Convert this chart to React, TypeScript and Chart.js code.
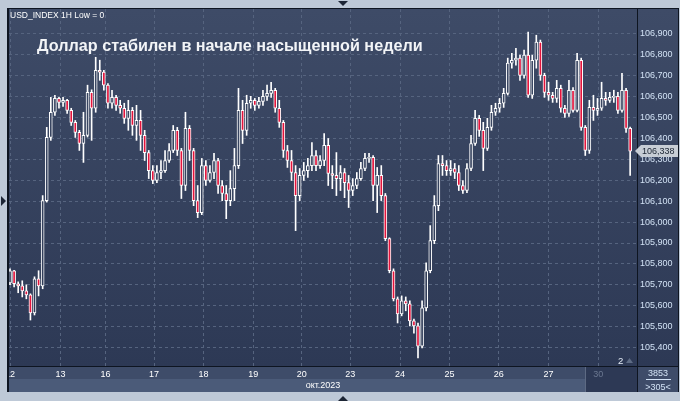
import React, { useEffect, useRef } from 'react';
import { Chart, registerables } from 'chart.js';

Chart.register(...registerables);

// ---- data ----
const headerText = 'USD_INDEX 1H Low = 0';
const titleText = 'Доллар стабилен в начале насыщенной недели';
const monthLabel = 'окт.2023';
const dayLabels = ['12', '13', '16', '17', '18', '19', '20', '23', '24', '25', '26', '27', '30'];
const dayPositions = [0, 12.4, 23.4, 35.3, 47.4, 59.6, 71.5, 83.4, 95.6, 107.7, 119.8, 132.0, 144.2];
const priceTicks = [105.4, 105.5, 105.6, 105.7, 105.8, 105.9, 106.0, 106.1, 106.2, 106.3, 106.4, 106.5, 106.6, 106.7, 106.8, 106.9];
const lastPrice = 106.338;
const barsTotal = '3853';
const barsVisible = '>305<';
const pageLabel = '2';

const firstOpen = 105.71;
const closes = [
  105.768, 105.706, 105.696, 105.672, 105.653, 105.567, 105.729, 105.696, 106.102, 106.403,
  106.523, 106.589, 106.570, 106.580, 106.532, 106.475, 106.427, 106.374, 106.413, 106.618,
  106.542, 106.723, 106.714, 106.652, 106.566, 106.594, 106.556, 106.542, 106.494, 106.532,
  106.460, 106.484, 106.413, 106.331, 106.245, 106.198, 106.236, 106.245, 106.293, 106.341,
  106.437, 106.341, 106.174, 106.446, 106.341, 106.102, 106.045, 106.269, 106.198, 106.236,
  106.293, 106.174, 106.136, 106.102, 106.159, 106.269, 106.532, 106.437, 106.566, 106.580,
  106.556, 106.575, 106.599, 106.613, 106.628, 106.542, 106.475, 106.341, 106.293, 106.236,
  106.126, 106.222, 106.245, 106.269, 106.317, 106.269, 106.293, 106.365, 106.231, 106.222,
  106.207, 106.236, 106.188, 106.150, 106.174, 106.207, 106.255, 106.303, 106.308, 106.174,
  106.222, 106.126, 105.921, 105.768, 105.634, 105.562, 105.624, 105.610, 105.529, 105.505,
  105.409, 105.591, 105.768, 105.911, 106.078, 106.279, 106.269, 106.245, 106.255, 106.236,
  106.174, 106.150, 106.255, 106.374, 106.494, 106.437, 106.351, 106.451, 106.523, 106.542,
  106.566, 106.613, 106.757, 106.771, 106.781, 106.699, 106.795, 106.604, 106.771, 106.857,
  106.699, 106.618, 106.604, 106.589, 106.637, 106.542, 106.518, 106.628, 106.532, 106.771,
  106.451, 106.341, 106.546, 106.532, 106.542, 106.589, 106.580, 106.594, 106.599, 106.532,
  106.628, 106.446, 106.338,
];
const highs = [
  105.777, 105.770, 105.715, 105.720, 105.701, 105.658, 105.739, 105.768, 106.126, 106.451,
  106.594, 106.604, 106.594, 106.594, 106.585, 106.542, 106.484, 106.437, 106.523, 106.652,
  106.630, 106.785, 106.771, 106.723, 106.660, 106.628, 106.604, 106.580, 106.566, 106.580,
  106.546, 106.556, 106.532, 106.437, 106.341, 106.269, 106.269, 106.293, 106.341, 106.374,
  106.460, 106.451, 106.351, 106.523, 106.460, 106.351, 106.174, 106.303, 106.293, 106.269,
  106.327, 106.303, 106.198, 106.174, 106.245, 106.351, 106.637, 106.580, 106.604, 106.599,
  106.589, 106.594, 106.628, 106.652, 106.666, 106.637, 106.580, 106.484, 106.365, 106.341,
  106.269, 106.255, 106.284, 106.303, 106.379, 106.341, 106.317, 106.422, 106.398, 106.269,
  106.331, 106.269, 106.255, 106.222, 106.207, 106.236, 106.284, 106.327, 106.327, 106.317,
  106.260, 106.269, 106.136, 105.925, 105.777, 105.643, 105.648, 105.643, 105.624, 105.538,
  105.519, 105.624, 105.806, 105.983, 106.126, 106.317, 106.317, 106.293, 106.293, 106.279,
  106.269, 106.198, 106.279, 106.413, 106.532, 106.508, 106.475, 106.494, 106.556, 106.566,
  106.589, 106.637, 106.781, 106.804, 106.828, 106.795, 106.819, 106.905, 106.795, 106.890,
  106.867, 106.709, 106.666, 106.618, 106.675, 106.652, 106.556, 106.675, 106.640, 106.804,
  106.781, 106.460, 106.580, 106.604, 106.589, 106.666, 106.618, 106.618, 106.628, 106.618,
  106.709, 106.637, 106.452,
];
const lows = [
  105.701, 105.691, 105.663, 105.643, 105.634, 105.533, 105.557, 105.648, 105.682, 106.095,
  106.389, 106.508, 106.542, 106.551, 106.518, 106.460, 106.403, 106.341, 106.284, 106.405,
  106.389, 106.523, 106.675, 106.628, 106.542, 106.542, 106.532, 106.518, 106.470, 106.437,
  106.413, 106.389, 106.341, 106.293, 106.207, 106.183, 106.188, 106.207, 106.236, 106.284,
  106.331, 106.317, 106.112, 106.150, 106.293, 106.078, 106.021, 106.035, 106.174, 106.190,
  106.207, 106.136, 106.102, 106.016, 106.078, 106.102, 106.255, 106.374, 106.413, 106.542,
  106.532, 106.542, 106.556, 106.580, 106.594, 106.523, 106.451, 106.308, 106.260, 106.198,
  105.959, 106.102, 106.198, 106.212, 106.245, 106.245, 106.255, 106.269, 106.174, 106.159,
  106.126, 106.150, 106.116, 106.069, 106.126, 106.159, 106.198, 106.245, 106.284, 106.102,
  106.045, 106.102, 105.911, 105.758, 105.624, 105.519, 105.553, 105.577, 105.505, 105.471,
  105.352, 105.400, 105.577, 105.758, 105.897, 106.054, 106.222, 106.222, 106.222, 106.207,
  106.150, 106.136, 106.140, 106.245, 106.365, 106.408, 106.245, 106.341, 106.437, 106.508,
  106.523, 106.546, 106.605, 106.733, 106.747, 106.675, 106.685, 106.594, 106.589, 106.733,
  106.675, 106.594, 106.580, 106.570, 106.570, 106.523, 106.499, 106.503, 106.523, 106.525,
  106.437, 106.317, 106.327, 106.484, 106.508, 106.532, 106.556, 106.570, 106.570, 106.518,
  106.523, 106.427, 106.222,
];
const opens = closes.map((_, i) => (i === 0 ? firstOpen : closes[i - 1]));

// ---- styles ----
const FONT = '"Liberation Sans", Arial, sans-serif';
const FRAME = '#bec9d7';
const BG_TOP = '#3e4b67';
const BG_BOT = '#2d3955';
const GRID = '#56647f';
const RED = '#e3143c';
const WHITE = '#ffffff';
const AXIS_TXT = '#d2e2f5';

function plotGradient(chart: any) {
  const a = chart.chartArea;
  if (!a) return BG_BOT;
  const g = chart.ctx.createLinearGradient(0, a.top, 0, a.bottom);
  g.addColorStop(0, BG_TOP);
  g.addColorStop(1, BG_BOT);
  return g;
}

const backgroundPlugin = {
  id: 'bgPanel',
  beforeDraw(chart: any) {
    const ctx = chart.ctx;
    const a = chart.chartArea;
    ctx.save();
    ctx.fillStyle = FRAME;
    ctx.fillRect(0, 0, chart.width, chart.height);
    const g = ctx.createLinearGradient(0, a.top, 0, a.bottom);
    g.addColorStop(0, BG_TOP);
    g.addColorStop(1, BG_BOT);
    ctx.fillStyle = g;
    ctx.fillRect(9, 9, 669, a.bottom - 9);
    // date rows
    ctx.fillStyle = '#3e4c69';
    ctx.fillRect(9, a.bottom, 669, 13);
    ctx.fillStyle = '#4b5b79';
    ctx.fillRect(9, a.bottom + 13, a.right - 9, 13);
    ctx.fillStyle = '#3e4c69';
    ctx.fillRect(a.right, a.bottom, 678 - a.right, 26);
    // darker box for current day
    ctx.fillStyle = '#2d3955';
    ctx.fillRect(586, a.bottom, a.right - 586, 26);
    ctx.fillStyle = '#5d6a83';
    ctx.fillRect(585, a.bottom + 1, 1, 25);
    ctx.restore();
  },
  afterDraw(chart: any) {
    const ctx = chart.ctx;
    const a = chart.chartArea;
    ctx.save();
    // outer frame
    ctx.fillStyle = FRAME;
    ctx.fillRect(0, 0, 680, 8);
    ctx.fillRect(0, 0, 7, 401);
    ctx.fillRect(679, 0, 1, 401);
    ctx.fillRect(0, 392, 680, 9);
    // borders
    ctx.fillStyle = '#0e1521';
    ctx.fillRect(7, 8, 2, 384);
    ctx.fillRect(7, 8, 672, 1);
    ctx.fillRect(a.right, 9, 1, 383);
    ctx.fillRect(9, a.bottom, 669, 1);
    ctx.fillRect(678, 8, 1, 384);
    // triangles
    ctx.fillStyle = '#1c2535';
    ctx.beginPath(); ctx.moveTo(338, 1); ctx.lineTo(348, 1); ctx.lineTo(343, 6); ctx.closePath(); ctx.fill();
    ctx.beginPath(); ctx.moveTo(1, 196); ctx.lineTo(1, 206); ctx.lineTo(6, 201); ctx.closePath(); ctx.fill();
    ctx.beginPath(); ctx.moveTo(338, 401); ctx.lineTo(348, 401); ctx.lineTo(343, 396); ctx.closePath(); ctx.fill();
    // header & title
    ctx.fillStyle = WHITE;
    ctx.textAlign = 'left';
    ctx.textBaseline = 'alphabetic';
    ctx.font = `8.5px ${FONT}`;
    ctx.fillText(headerText, 10, 17.5);
    ctx.fillStyle = '#f2f4f7';
    ctx.font = `bold 16.2px ${FONT}`;
    ctx.fillText(titleText, 37, 51);
    // current price tag
    const py = chart.scales.y.getPixelForValue(lastPrice);
    ctx.fillStyle = '#c7cdd5';
    ctx.beginPath();
    ctx.moveTo(635, py);
    ctx.lineTo(641, py - 6);
    ctx.lineTo(678, py - 6);
    ctx.lineTo(678, py + 6);
    ctx.lineTo(641, py + 6);
    ctx.closePath();
    ctx.fill();
    ctx.fillStyle = '#1a2432';
    ctx.font = `9px ${FONT}`;
    ctx.textBaseline = 'middle';
    ctx.fillText(lastPrice.toFixed(3).replace('.', ','), 642, py + 0.5);
    // page label
    ctx.fillStyle = '#e6eef8';
    ctx.font = `9.5px ${FONT}`;
    ctx.textBaseline = 'alphabetic';
    ctx.fillText(pageLabel, 618, 364);
    ctx.fillStyle = '#5e6c85';
    ctx.beginPath(); ctx.moveTo(626, 363); ctx.lineTo(633, 363); ctx.lineTo(629.5, 358); ctx.closePath(); ctx.fill();
    // bars counter
    ctx.fillStyle = AXIS_TXT;
    ctx.font = `9px ${FONT}`;
    ctx.textAlign = 'center';
    ctx.fillText(barsTotal, 658, 376);
    ctx.fillRect(646, 379, 25, 1);
    ctx.fillText(barsVisible, 658, 390);
    ctx.restore();
  },
};

export default function App() {
  const ref = useRef<HTMLCanvasElement>(null);
  useEffect(() => {
    const canvas = ref.current;
    if (!canvas) return;
    Chart.defaults.font.family = FONT;
    const wickData = closes.map((_, i) => ({ x: i, y: [lows[i], highs[i]] }));
    const bodyData = closes.map((c, i) => ({ x: i, y: [opens[i], c] }));
    const chart = new Chart(canvas, {
      type: 'bar',
      data: {
        datasets: [
          {
            label: 'body',
            data: bodyData as any,
            order: 0,
            grouped: false,
            barThickness: 3,
            borderWidth: 1,
            borderSkipped: false,
            borderColor: WHITE,
            backgroundColor: (c: any) => {
              const i = c.dataIndex;
              if (i === undefined) return RED;
              return closes[i] < opens[i] ? RED : plotGradient(c.chart);
            },
          } as any,
          {
            label: 'wick',
            data: wickData as any,
            order: 1,
            grouped: false,
            barThickness: 1,
            borderWidth: 0,
            backgroundColor: WHITE,
          } as any,
        ],
      },
      options: {
        responsive: false,
        devicePixelRatio: 1,
        animation: false,
        layout: { padding: { left: 9, top: 9, right: 2, bottom: 9 } },
        plugins: { legend: { display: false }, tooltip: { enabled: false } },
        scales: {
          x: {
            type: 'linear',
            offset: false,
            min: -0.25,
            max: 153.68,
            grid: { color: GRID, lineWidth: 1, drawTicks: false, offset: false },
            border: { display: false, dash: [3, 3] },
            afterBuildTicks: (s: any) => {
              s.ticks = dayPositions.map((v) => ({ value: v }));
            },
            afterFit: (s: any) => {
              s.height = 26;
            },
            ticks: {
              autoSkip: false,
              maxRotation: 0,
              padding: 3,
              font: { size: 9, family: FONT },
              color: (c: any) => (c.index === dayLabels.length - 1 ? '#6b7891' : WHITE),
              callback: (_v: any, i: number) => dayLabels[i],
            },
            title: {
              display: true,
              text: monthLabel,
              color: WHITE,
              font: { size: 9, family: FONT },
              padding: { top: 0, bottom: 1 },
            },
          },
          y: {
            type: 'linear',
            position: 'right',
            min: 105.314,
            max: 107.015,
            grid: { color: GRID, lineWidth: 1, drawTicks: false },
            border: { display: false, dash: [3, 3] },
            afterBuildTicks: (s: any) => {
              s.ticks = priceTicks.map((v) => ({ value: v }));
            },
            afterFit: (s: any) => {
              s.width = 41;
            },
            ticks: {
              padding: 3,
              color: AXIS_TXT,
              font: { size: 9, family: FONT },
              callback: (v: any) => Number(v).toFixed(3).replace('.', ','),
            },
          },
        },
      } as any,
      plugins: [backgroundPlugin],
    });
    return () => chart.destroy();
  }, []);
  return (
    <div style={{ position: 'fixed', left: 0, top: 0, width: 680, height: 401 }}>
      <canvas ref={ref} width={680} height={401} style={{ display: 'block', width: 680, height: 401 }} />
    </div>
  );
}
